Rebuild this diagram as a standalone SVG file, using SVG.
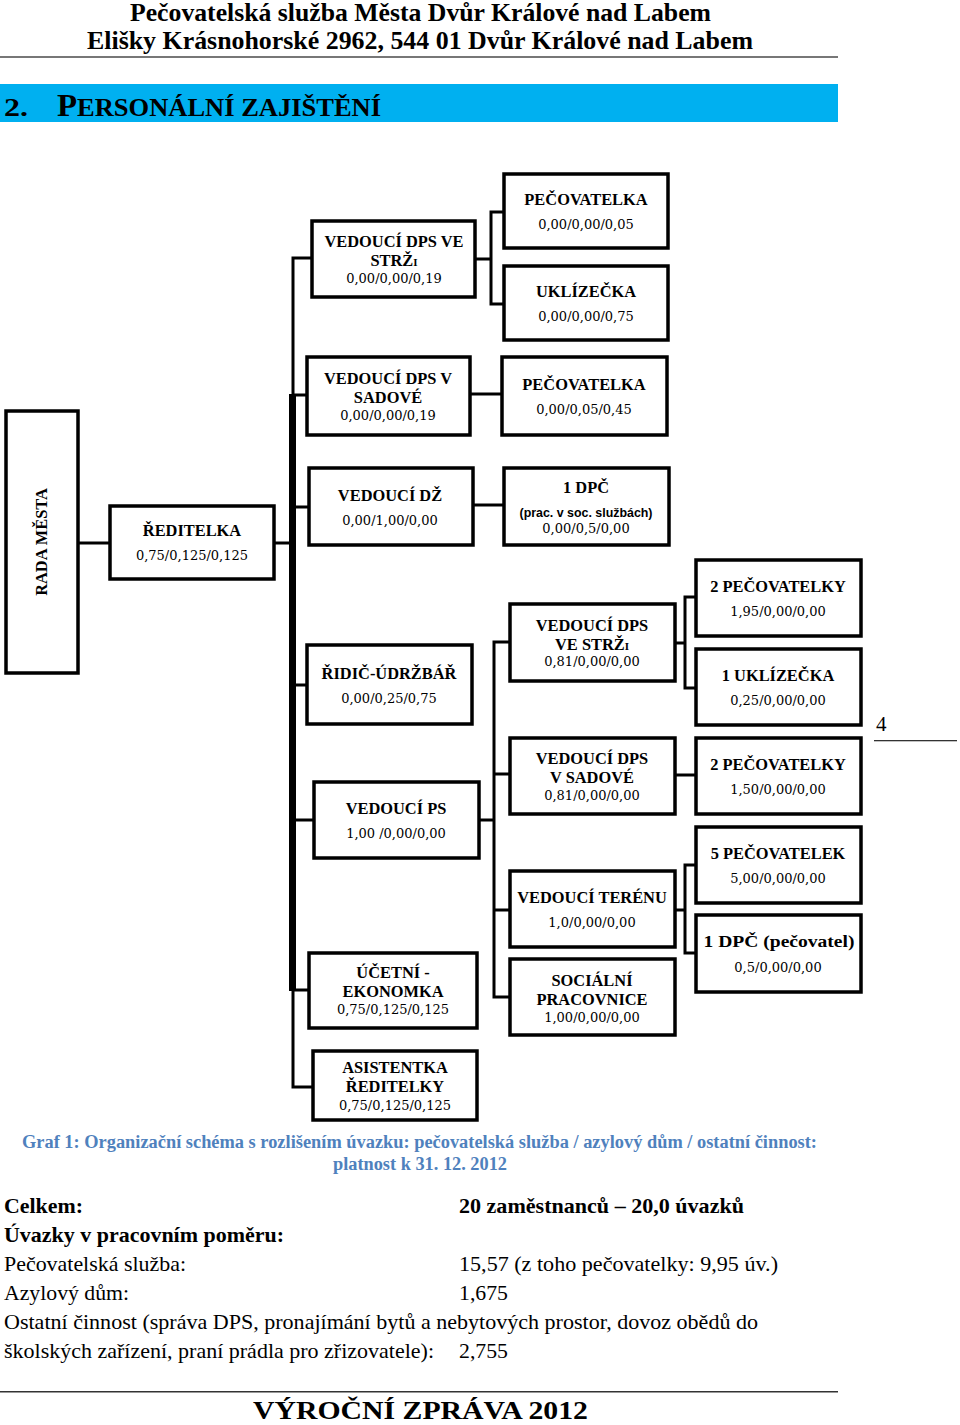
<svg xmlns="http://www.w3.org/2000/svg" width="960" height="1425" viewBox="0 0 960 1425">
<style>
.bg{fill:#fff}
.box{fill:#fff;stroke:#000;stroke-width:3.5}
.ln{fill:none;stroke:#000;stroke-width:3}
.t{font-family:"Liberation Serif",serif;font-weight:bold;font-size:16.4px;fill:#000;text-anchor:middle}
.n{font-family:"DejaVu Serif",serif;font-size:13px;fill:#000;text-anchor:middle}
.s{font-family:"Liberation Sans",sans-serif;font-weight:bold;font-size:12px;fill:#000;text-anchor:middle}
.hd{font-family:"Liberation Serif",serif;font-weight:bold;font-size:26px;fill:#000}
.cap{font-family:"Liberation Serif",serif;font-weight:bold;font-size:18px;fill:#4F81BD}
.bt{font-family:"Liberation Serif",serif;font-size:21px;fill:#000}
.bb{font-weight:bold}
</style>
<rect class="bg" x="0" y="0" width="960" height="1425"/>
<g id="header">
<text class="hd" x="130" y="21" textLength="581" lengthAdjust="spacingAndGlyphs">Pečovatelská služba Města Dvůr Králové nad Labem</text>
<text class="hd" x="87" y="49" textLength="666" lengthAdjust="spacingAndGlyphs">Elišky Krásnohorské 2962, 544 01  Dvůr Králové nad Labem</text>
<rect x="0" y="56" width="838" height="2" fill="#777"/>
<rect x="0" y="84" width="838" height="38" fill="#00B0F0"/>
<text class="hd" x="4" y="116" font-size="31" textLength="24" lengthAdjust="spacingAndGlyphs" fill="#111">2.</text>
<text class="hd" x="57" y="116" textLength="324" lengthAdjust="spacingAndGlyphs" fill="#111"><tspan font-size="31">P</tspan><tspan font-size="25">ERSONÁLNÍ ZAJIŠTĚNÍ</tspan></text>
</g>
<g id="connectors">
<path class="ln" d="M312,258 H293 V1087 H313"/>
<rect x="289" y="394" width="7" height="597" fill="#000"/>
<path class="ln" d="M293,395 H307 M293,507 H309 M274,543 H293 M293,685 H307 M293,820 H314 M293,990 H309"/>
<path class="ln" d="M78,543 H110"/>
<path class="ln" d="M475,259 H491 M504,212 H491 V304 H504"/>
<path class="ln" d="M470,394 H502"/>
<path class="ln" d="M473,505 H504"/>
<path class="ln" d="M511,642 H494 V997 H510 M494,774 H510 M479,820 H494 M494,910 H510"/>
<path class="ln" d="M675,643 H685 M696,597 H685 V688 H696"/>
<path class="ln" d="M675,775 H696"/>
<path class="ln" d="M675,910 H685 M696,865 H685 V953 H696"/>
</g>
<g id="rada-mesta">
<rect class="box" x="6" y="411" width="72" height="262"/>
<text class="t" transform="translate(47,542) rotate(-90)">RADA MĚSTA</text>
</g>
<g id="reditelka">
<rect class="box" x="110" y="506" width="164" height="73"/>
<text class="t" x="192" y="536">ŘEDITELKA</text>
<text class="n" x="192" y="560">0,75/0,125/0,125</text>
</g>
<g id="vedouci-dps-strz-top">
<rect class="box" x="312" y="221" width="163" height="76"/>
<text class="t" x="394" y="247">VEDOUCÍ DPS VE</text>
<text class="t" x="394" y="266">STRŽ<tspan font-size="11">I</tspan></text>
<text class="n" x="394" y="283">0,00/0,00/0,19</text>
</g>
<g id="pecovatelka-top">
<rect class="box" x="504" y="174" width="164" height="74"/>
<text class="t" x="586" y="205">PEČOVATELKA</text>
<text class="n" x="586" y="229">0,00/0,00/0,05</text>
</g>
<g id="uklizecka-top">
<rect class="box" x="504" y="266" width="164" height="74"/>
<text class="t" x="586" y="297">UKLÍZEČKA</text>
<text class="n" x="586" y="321">0,00/0,00/0,75</text>
</g>
<g id="vedouci-dps-sadova-top">
<rect class="box" x="307" y="357" width="163" height="78"/>
<text class="t" x="388" y="384">VEDOUCÍ DPS V</text>
<text class="t" x="388" y="403">SADOVÉ</text>
<text class="n" x="388" y="420">0,00/0,00/0,19</text>
</g>
<g id="pecovatelka-sadova">
<rect class="box" x="502" y="357" width="165" height="78"/>
<text class="t" x="584" y="390">PEČOVATELKA</text>
<text class="n" x="584" y="414">0,00/0,05/0,45</text>
</g>
<g id="vedouci-dz">
<rect class="box" x="309" y="468" width="164" height="77"/>
<text class="t" x="390" y="501">VEDOUCÍ DŽ</text>
<text class="n" x="390" y="525">0,00/1,00/0,00</text>
</g>
<g id="dpc-soc">
<rect class="box" x="504" y="468" width="165" height="77"/>
<text class="t" x="586" y="493">1 DPČ</text>
<text class="s" x="586" y="517" textLength="133" lengthAdjust="spacingAndGlyphs">(prac. v soc. službách)</text>
<text class="n" x="586" y="533">0,00/0,5/0,00</text>
</g>
<g id="ridic-udrzbar">
<rect class="box" x="307" y="645" width="165" height="79"/>
<text class="t" x="389" y="679">ŘIDIČ-ÚDRŽBÁŘ</text>
<text class="n" x="389" y="703">0,00/0,25/0,75</text>
</g>
<g id="vedouci-dps-strz-mid">
<rect class="box" x="510" y="604" width="165" height="77"/>
<text class="t" x="592" y="631">VEDOUCÍ DPS</text>
<text class="t" x="592" y="650">VE STRŽ<tspan font-size="11">I</tspan></text>
<text class="n" x="592" y="666">0,81/0,00/0,00</text>
</g>
<g id="pecovatelky-195">
<rect class="box" x="696" y="560" width="165" height="76"/>
<text class="t" x="778" y="592">2 PEČOVATELKY</text>
<text class="n" x="778" y="616">1,95/0,00/0,00</text>
</g>
<g id="uklizecka-mid">
<rect class="box" x="696" y="649" width="165" height="76"/>
<text class="t" x="778" y="681">1 UKLÍZEČKA</text>
<text class="n" x="778" y="705">0,25/0,00/0,00</text>
</g>
<g id="vedouci-dps-sadova-mid">
<rect class="box" x="510" y="738" width="165" height="76"/>
<text class="t" x="592" y="764">VEDOUCÍ DPS</text>
<text class="t" x="592" y="783">V SADOVÉ</text>
<text class="n" x="592" y="800">0,81/0,00/0,00</text>
</g>
<g id="pecovatelky-150">
<rect class="box" x="696" y="738" width="165" height="76"/>
<text class="t" x="778" y="770">2 PEČOVATELKY</text>
<text class="n" x="778" y="794">1,50/0,00/0,00</text>
</g>
<g id="vedouci-ps">
<rect class="box" x="314" y="782" width="165" height="76"/>
<text class="t" x="396" y="814">VEDOUCÍ PS</text>
<text class="n" x="396" y="838">1,00 /0,00/0,00</text>
</g>
<g id="pecovatelek-5">
<rect class="box" x="696" y="827" width="165" height="76"/>
<text class="t" x="778" y="859">5 PEČOVATELEK</text>
<text class="n" x="778" y="883">5,00/0,00/0,00</text>
</g>
<g id="vedouci-terenu">
<rect class="box" x="510" y="871" width="165" height="76"/>
<text class="t" x="592" y="903">VEDOUCÍ TERÉNU</text>
<text class="n" x="592" y="927">1,0/0,00/0,00</text>
</g>
<g id="dpc-pecovatel">
<rect class="box" x="696" y="915" width="165" height="77"/>
<text class="t" x="779" y="947" textLength="151" lengthAdjust="spacingAndGlyphs">1  DPČ (pečovatel)</text>
<text class="n" x="778" y="972">0,5/0,00/0,00</text>
</g>
<g id="ucetni-ekonomka">
<rect class="box" x="309" y="953" width="168" height="75"/>
<text class="t" x="393" y="978">ÚČETNÍ -</text>
<text class="t" x="393" y="997">EKONOMKA</text>
<text class="n" x="393" y="1014">0,75/0,125/0,125</text>
</g>
<g id="socialni-pracovnice">
<rect class="box" x="510" y="959" width="165" height="76"/>
<text class="t" x="592" y="986">SOCIÁLNÍ</text>
<text class="t" x="592" y="1005">PRACOVNICE</text>
<text class="n" x="592" y="1022">1,00/0,00/0,00</text>
</g>
<g id="asistentka">
<rect class="box" x="313" y="1051" width="164" height="69"/>
<text class="t" x="395" y="1073">ASISTENTKA</text>
<text class="t" x="395" y="1092">ŘEDITELKY</text>
<text class="n" x="395" y="1110">0,75/0,125/0,125</text>
</g>
<g id="page-number">
<text class="bt" x="876" y="731" font-size="20">4</text>
<rect x="874" y="740" width="83" height="1.3" fill="#333"/>
</g>
<g id="caption">
<text class="cap" x="22" y="1148" textLength="795" lengthAdjust="spacingAndGlyphs">Graf 1: Organizační schéma s rozlišením úvazku: pečovatelská služba / azylový dům / ostatní činnost:</text>
<text class="cap" x="333" y="1170" textLength="174" lengthAdjust="spacingAndGlyphs">platnost k 31. 12. 2012</text>
</g>
<g id="summary">
<text class="bt bb" x="4" y="1213" textLength="79" lengthAdjust="spacingAndGlyphs">Celkem:</text>
<text class="bt bb" x="459" y="1213" textLength="285" lengthAdjust="spacingAndGlyphs">20 zaměstnanců – 20,0 úvazků</text>
<text class="bt bb" x="4" y="1242" textLength="280" lengthAdjust="spacingAndGlyphs">Úvazky v pracovním poměru:</text>
<text class="bt" x="4" y="1271" textLength="182" lengthAdjust="spacingAndGlyphs">Pečovatelská služba:</text>
<text class="bt" x="459" y="1271" textLength="319" lengthAdjust="spacingAndGlyphs">15,57 (z toho pečovatelky: 9,95 úv.)</text>
<text class="bt" x="4" y="1300" textLength="125" lengthAdjust="spacingAndGlyphs">Azylový dům:</text>
<text class="bt" x="459" y="1300" textLength="49" lengthAdjust="spacingAndGlyphs">1,675</text>
<text class="bt" x="4" y="1329" textLength="754" lengthAdjust="spacingAndGlyphs">Ostatní činnost (správa DPS, pronajímání bytů a nebytových prostor, dovoz obědů do</text>
<text class="bt" x="4" y="1358" textLength="430" lengthAdjust="spacingAndGlyphs">školských zařízení, praní prádla pro zřizovatele):</text>
<text class="bt" x="459" y="1358" textLength="49" lengthAdjust="spacingAndGlyphs">2,755</text>
</g>
<g id="footer">
<rect x="0" y="1391" width="838" height="1.5" fill="#333"/>
<text class="hd" x="253" y="1419" font-size="31" textLength="335" lengthAdjust="spacingAndGlyphs">VÝROČNÍ ZPRÁVA 2012</text>
</g>
</svg>
